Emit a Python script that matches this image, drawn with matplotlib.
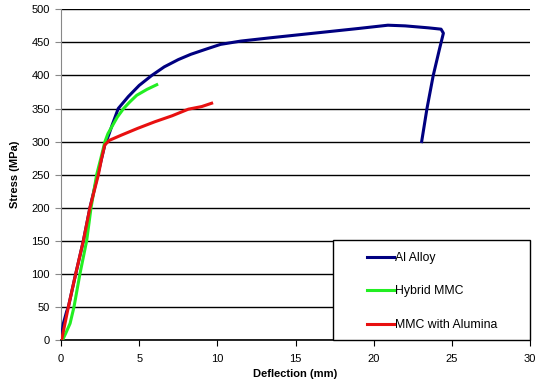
import numpy as np
import matplotlib
matplotlib.use("Agg")
import matplotlib.pyplot as plt
from matplotlib.patches import Rectangle

plt.rcParams['font.family'] = ['Liberation Sans', 'DejaVu Sans']

# Al alloy curve (deflection mm, stress MPa)
al_x = [0.0, 0.15, 0.36, 0.47, 0.94, 1.43, 1.85, 2.35, 2.6, 2.8, 3.05, 3.27, 3.66,
        4.3, 5.0, 5.8, 6.6, 7.5, 8.3, 9.3, 10.2, 11.5, 13.4, 15.0, 17.0, 19.0, 20.9,
        22.0, 23.5, 24.3, 24.45, 24.2, 23.8, 23.4, 23.06]
al_y = [0, 25, 43, 50, 100, 150, 200, 250, 275, 295, 310, 325, 350,
        368, 385, 400, 413, 424, 432, 440, 447, 452, 457, 461, 466, 471, 476,
        475, 472, 470, 464, 440, 400, 350, 300]

# Hybrid MMC
hy_x = [0.1, 0.3, 0.58, 0.83, 1.21, 1.64, 1.92, 2.28, 2.55, 2.81, 3.0, 3.24, 3.6, 4.0,
        4.4, 4.84, 5.5, 6.12]
hy_y = [0, 10, 25, 50, 100, 150, 200, 250, 275, 300, 312, 322, 337, 350,
        360, 370, 379, 386]

# MMC with Alumina
al2_x = [0.04, 0.47, 0.94, 1.43, 1.85, 2.39, 2.6, 2.8, 3.1, 3.88, 4.9, 6.0, 7.1,
         8.14, 9.0, 9.63]
al2_y = [0, 50, 100, 150, 200, 250, 275, 295, 302, 310, 320, 330, 339,
         349, 353, 358]

fig = plt.figure(figsize=(5.38, 3.89), dpi=100)
ax = fig.add_axes([0.1134, 0.126, 0.8721, 0.850])

ax.plot(al_x, al_y, color='#000080', lw=2.2, label='Al Alloy', zorder=3)
ax.plot(hy_x, hy_y, color='#22ee22', lw=2.2, label='Hybrid MMC', zorder=4)
ax.plot(al2_x, al2_y, color='#e81010', lw=2.2, label='MMC with Alumina', zorder=5)

ax.set_xlim(0, 30)
ax.set_ylim(0, 500)
ax.set_xticks(np.arange(0, 31, 5))
ax.set_yticks(np.arange(0, 501, 50))
ax.yaxis.grid(True, color='black', lw=1.0)
ax.set_axisbelow(True)

for s in ['top', 'right']:
    ax.spines[s].set_visible(False)
ax.spines['left'].set_color('#888888')
ax.spines['bottom'].set_color('black')
ax.spines['bottom'].set_linewidth(1.2)
ax.tick_params(axis='x', direction='out', length=4, colors='black', labelsize=8, pad=6)
ax.tick_params(axis='y', direction='out', length=4, color='#888888', labelcolor='black',
               labelsize=8, pad=4)

ax.set_xlabel('Deflection (mm)', fontsize=8, fontweight='bold', labelpad=4)
ax.set_ylabel('Stress (MPa)', fontsize=8, fontweight='bold', labelpad=8)

# legend box drawn separately (wider than the entries)
box = Rectangle((0.580, 0.0), 0.42, 0.302, transform=ax.transAxes, facecolor='white',
                edgecolor='black', lw=1.0, zorder=8, clip_on=False)
ax.add_patch(box)
leg = ax.legend(loc='upper left', bbox_to_anchor=(0.652, 0.266), fontsize=8.8,
                frameon=False, labelspacing=1.75, handlelength=2.2, handletextpad=0.1,
                borderpad=0.0, borderaxespad=0.0)
leg.set_zorder(10)

fig.savefig('out.png', dpi=100)
